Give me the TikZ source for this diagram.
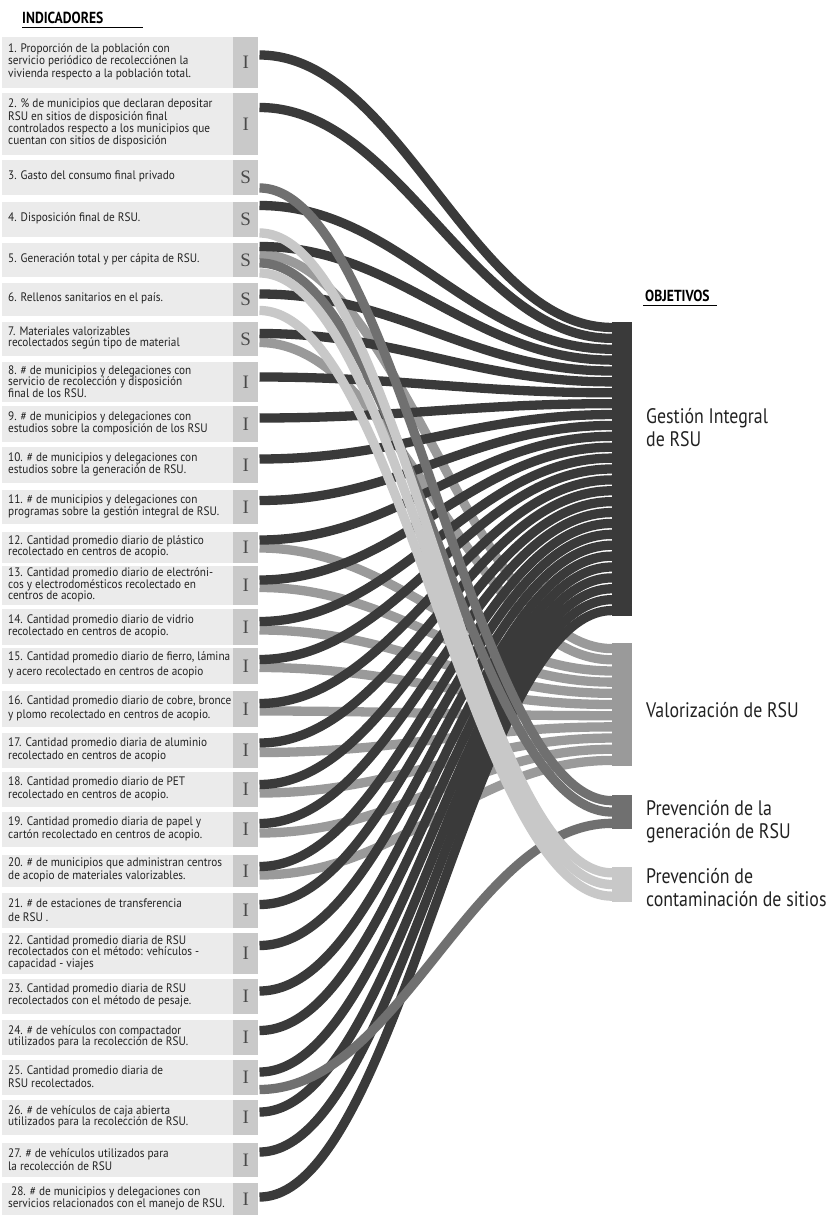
\documentclass[tikz,border=0pt]{standalone}
\usepackage{fontspec}
\setmainfont{PT Sans}[FakeStretch=0.85]
\newfontfamily\indf{PT Sans}[FakeStretch=0.915]
\newfontfamily\serifl{Liberation Serif}
\usetikzlibrary{calc}
\definecolor{cG}{HTML}{3A3A3A}
\definecolor{cV}{HTML}{9A9A9A}
\definecolor{cP}{HTML}{707070}
\definecolor{cC}{HTML}{C8C8C8}
\definecolor{boxbg}{HTML}{EBEBEB}
\definecolor{letbg}{HTML}{C9C9C9}
\definecolor{txt}{HTML}{222222}
\definecolor{lettxt}{HTML}{4A4A4A}
\tikzset{
  indbox/.style={fill=boxbg, draw=none, minimum width=231pt, inner sep=0pt, anchor=north west},
  letbox/.style={fill=letbg, draw=none, minimum width=25pt, inner sep=0pt, anchor=north west,
                 text=lettxt, font=\serifl\fontsize{19}{19}\selectfont},
  indtext/.style={anchor=west, align=left, inner sep=0pt, text=txt},
  bar/.style={draw=none, minimum width=20pt, inner sep=0pt, anchor=north west},
  objlabel/.style={anchor=base west, align=left, inner sep=0pt, text=txt,
                   font=\fontsize{21}{23}\selectfont},
  head/.style={anchor=base west, inner sep=0pt, text=black, font=\bfseries\fontsize{16}{16}\selectfont},
  flow/.style={line width=9.3pt}
}
\newcommand\indic[6]{%
  \pgfmathsetmacro\hh{#3-#2}%
  \node[indbox, minimum height=\hh pt] (b#1) at (2,#2) {};
  \node[letbox, minimum height=\hh pt] (l#1) at (233,#2) {#4};
  \node[indtext, font=\indf\fontsize{12.3}{#5}\selectfont] (t#1) at ($(b#1.west)+(6,-1)$) {#6};
}
\newcommand\band[3]{%
  \draw[flow, #1] (#2) .. controls ($(#2)+(140,0)$) and ($(#3)+(-140,0)$) .. (#3);}
\begin{document}
\begin{tikzpicture}[x=1pt,y=-1pt]
\useasboundingbox (0,0) rectangle (830,1215);
\fill[white] (0,0) rectangle (830,1215);

% headings
\node[head] (hI) at (22,23.3) {INDICADORES};
\draw[line width=1.4pt] (22,27.5) -- (143,27.5);
\node[head] (hO) at (645,301) {OBJETIVOS};
\draw[line width=1.4pt] (643,305.5) -- (717,305.5);

% indicators
\indic{1}{37}{88}{I}{10.9}{1. Proporción de la población con\\servicio periódico de recolecciónen la\\vivienda respecto a la población total.}
\indic{2}{93}{155}{I}{11}{2. \% de municipios que declaran depositar\\RSU en sitios de disposición final\\controlados respecto a los municipios que\\cuentan con sitios de disposición}
\indic{3}{160}{195}{S}{11}{3. Gasto del consumo final privado}
\indic{4}{202}{237}{S}{11}{4. Disposición final de RSU.}
\indic{5}{243}{277}{S}{11}{5. Generación total y per cápita de RSU.}
\indic{6}{283}{316}{S}{11}{6. Rellenos sanitarios en el país.}
\indic{7}{322}{356}{S}{11}{7. Materiales valorizables\\recolectados según tipo de material}
\indic{8}{362}{402}{I}{11.5}{8. \# de municipios y delegaciones con\\servicio de recolección y disposición\\final de los RSU.}
\indic{9}{406}{442}{I}{11.5}{9. \# de municipios y delegaciones con\\estudios sobre la composición de los RSU}
\indic{10}{447}{483}{I}{11.2}{10. \# de municipios y delegaciones con\\estudios sobre la generación de RSU.}
\indic{11}{490}{524}{I}{11.5}{11. \# de municipios y delegaciones con\\programas sobre la gestión integral de RSU.}
\indic{12}{532}{563}{I}{11.5}{12. Cantidad promedio diario de plástico\\recolectado en centros de acopio.}
\indic{13}{566}{605}{I}{11.3}{13. Cantidad promedio diario de electróni-\\cos y electrodomésticos recolectado en\\centros de acopio.}
\indic{14}{609}{645}{I}{11.5}{14. Cantidad promedio diario de vidrio\\recolectado en centros de acopio.}
\indic{15}{648}{684}{I}{15}{15. Cantidad promedio diario de fierro, lámina\\y acero recolectado en centros de acopio}
\indic{16}{691}{727}{I}{14}{16. Cantidad promedio diario de cobre, bronce\\y plomo recolectado en centros de acopio.}
\indic{17}{733}{768}{I}{13}{17. Cantidad promedio diaria de aluminio\\recolectado en centros de acopio}
\indic{18}{772}{807}{I}{13}{18. Cantidad promedio diario de PET\\recolectado en centros de acopio.}
\indic{19}{812}{847}{I}{12.5}{19. Cantidad promedio diaria de papel y\\cartón recolectado en centros de acopio.}
\indic{20}{855}{887}{I}{13}{20. \# de municipios que administran centros\\de acopio de materiales valorizables.}
\indic{21}{893}{928}{I}{14}{21. \# de estaciones de transferencia\\de RSU .}
\indic{22}{933}{974}{I}{11.5}{22. Cantidad promedio diaria de RSU\\recolectados con el método: vehículos -\\capacidad - viajes}
\indic{23}{979}{1014}{I}{11.2}{23. Cantidad promedio diaria de RSU\\recolectados con el método de pesaje.}
\indic{24}{1020}{1055}{I}{11.5}{24. \# de vehículos con compactador\\utilizados para la recolección de RSU.}
\indic{25}{1060}{1095}{I}{13}{25. Cantidad promedio diaria de\\RSU recolectados.}
\indic{26}{1100}{1135}{I}{11.5}{26. \# de vehículos de caja abierta\\utilizados para la recolección de RSU.}
\indic{27}{1143}{1177}{I}{13}{27. \# de vehículos utilizados para\\la recolección de RSU}
\indic{28}{1183}{1215}{I}{11.5}{\hspace*{3pt}28. \# de municipios y delegaciones con\\servicios relacionados con el manejo de RSU.}

% objective bars
\node[bar, fill=cG, minimum height=294pt] (G) at (612,322) {};
\node[bar, fill=cV, minimum height=123pt] (V) at (612,643) {};
\node[bar, fill=cP, minimum height=34pt] (P) at (612,795) {};
\node[bar, fill=cC, minimum height=35pt] (C) at (612,867) {};

% flows: Valorizacion
\foreach \src [count=\k from 0] in {254.5,342.5,548,587.5,630,667.5,711,752.5,793,833,875}{
  \coordinate (sv\k) at (259.5,\src);
  \coordinate (tv\k) at ($(V.north west)+(0,{(\k+0.5)*123/11})$);
  \band{cV}{sv\k}{tv\k}
}
% flows: Gestion
\foreach \src [count=\k from 0] in {55,107.5,205.5,246.5,294,333.5,377,418,459,500.5,540,580,621.5,659.5,703.5,743,784.5,823.5,866.5,904.5,945.5,991,1030.5,1072,1112,1152,1197}{
  \coordinate (sg\k) at (259.5,\src);
  \coordinate (tg\k) at ($(G.north west)+(0,{(\k+0.5)*294/27})$);
  \band{cG}{sg\k}{tg\k}
}
% flows: Prevencion generacion
\foreach \src [count=\k from 0] in {188,263,1089.5}{
  \coordinate (sp\k) at (259.5,\src);
  \coordinate (tp\k) at ($(P.north west)+(0,{(\k+0.5)*34/3})$);
  \band{cP}{sp\k}{tp\k}
}
% flows: Prevencion contaminacion
\foreach \src [count=\k from 0] in {233,273,310.5}{
  \coordinate (sc\k) at (259.5,\src);
  \coordinate (tc\k) at ($(C.north west)+(0,{(\k+0.5)*35/3})$);
  \band{cC}{sc\k}{tc\k}
}

% objective labels (base = last line)
\node[objlabel] (oG) at (646,446.5) {Gestión Integral\\de RSU};
\node[objlabel] (oV) at (646,717) {Valorización de RSU};
\node[objlabel] (oP) at (646,838) {Prevención de la\\generación de RSU};
\node[objlabel] (oC) at (646,906) {Prevención de\\contaminación de sitios};
\end{tikzpicture}
\end{document}
